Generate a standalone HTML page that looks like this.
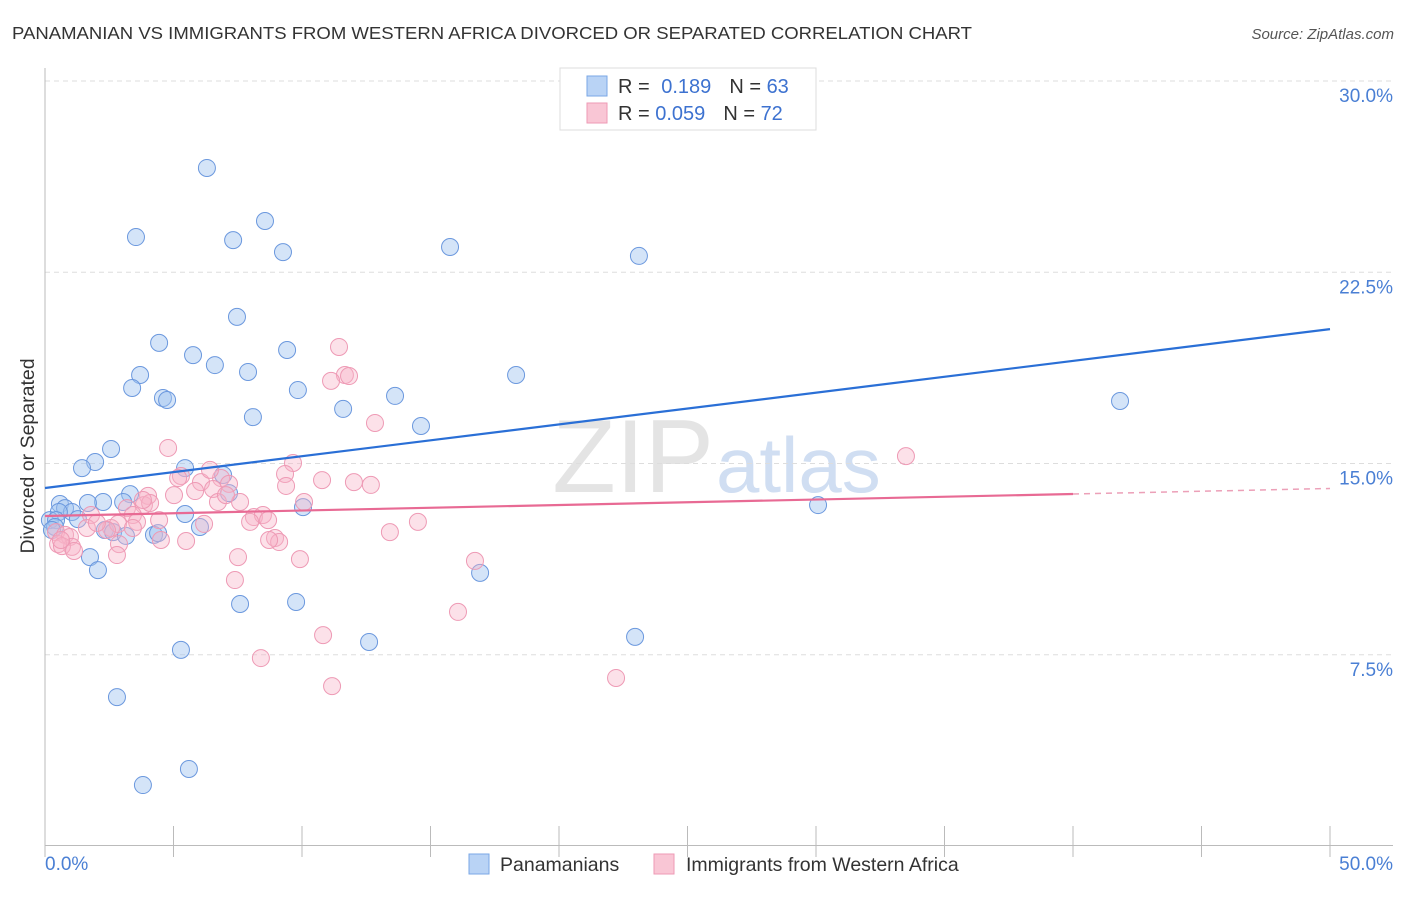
<!DOCTYPE html>
<html><head><meta charset="utf-8"><style>
body{margin:0;background:#fff;font-family:"Liberation Sans",sans-serif;}
svg text{font-family:"Liberation Sans",sans-serif;}
</style></head><body>
<svg width="1406" height="892">
<text x="12" y="39" font-size="17.5" fill="#333" textLength="960" lengthAdjust="spacingAndGlyphs">PANAMANIAN VS IMMIGRANTS FROM WESTERN AFRICA DIVORCED OR SEPARATED CORRELATION CHART</text>
<text x="1394" y="39" font-size="15" fill="#555" font-style="italic" text-anchor="end">Source: ZipAtlas.com</text>
<text x="714" y="492" font-size="104" fill="#e4e4e4" text-anchor="end" font-family="Liberation Serif">ZIP</text>
<text x="716" y="492" font-size="78" fill="#d0def2">atlas</text>
<g id="grid"></g>
<line x1="45" y1="68" x2="45" y2="846" stroke="#bbb"/>
<line x1="45" y1="845.5" x2="1393" y2="845.5" stroke="#bbb"/>
<text transform="translate(34,456) rotate(-90)" font-size="19.5" fill="#333" text-anchor="middle">Divorced or Separated</text>
<text x="45" y="870" font-size="19" fill="#4a7fd4">0.0%</text>
<text x="1393" y="870" font-size="19" fill="#4a7fd4" text-anchor="end">50.0%</text>
<g id="pts"></g>
<g id="lines"></g>
<g>
<rect x="560" y="68" width="256" height="62" fill="#fff" stroke="#ddd"/>
<rect x="587" y="76" width="20" height="20" fill="#b9d3f5" stroke="#7aa7e6"/>
<rect x="587" y="103" width="20" height="20" fill="#f9c6d5" stroke="#ee9ab5"/>
<text x="618" y="93" font-size="20" fill="#333">R = <tspan fill="#3d72d0" dx="6">0.189</tspan><tspan dx="18" fill="#333">N = </tspan><tspan fill="#3d72d0">63</tspan></text>
<text x="618" y="120" font-size="20" fill="#333">R = <tspan fill="#3d72d0">0.059</tspan><tspan dx="18" fill="#333">N = </tspan><tspan fill="#3d72d0">72</tspan></text>
</g>
<g>
<rect x="469" y="854" width="20" height="20" fill="#b9d3f5" stroke="#7aa7e6"/>
<text x="500" y="871" font-size="19.5" fill="#333">Panamanians</text>
<rect x="654" y="854" width="20" height="20" fill="#f9c6d5" stroke="#ee9ab5"/>
<text x="686" y="871" font-size="19.5" fill="#333">Immigrants from Western Africa</text>
</g>
</svg>
<script>
const yTicks=[7.5,15,22.5,30];
const yTickLabels=["7.5%","15.0%","22.5%","30.0%"];
const xTicks=[0,5,10,15,20,25,30,35,40,45,50];
const blueX=[6.30,8.56,3.54,7.32,9.26,15.76,23.11,7.47,4.44,5.76,9.42,6.61,3.70,7.90,18.33,3.39,4.59,4.75,9.84,13.62,11.60,8.09,14.63,41.83,2.57,1.95,1.44,5.45,6.93,7.16,3.31,2.26,0.58,1.67,3.04,0.78,1.05,0.54,10.04,5.45,30.08,1.28,0.19,0.43,0.39,2.33,6.03,2.65,4.24,4.40,3.15,1.75,2.06,16.93,7.59,9.77,12.61,22.96,5.29,2.80,5.60,3.81,0.27];
const blueY=[26.59,24.51,23.88,23.76,23.29,23.49,23.14,20.75,19.73,19.25,19.45,18.86,18.47,18.59,18.47,17.96,17.57,17.49,17.88,17.65,17.14,16.82,16.47,17.45,15.57,15.06,14.82,14.82,14.55,13.84,13.80,13.49,13.41,13.45,13.49,13.25,13.10,13.10,13.29,13.02,13.37,12.82,12.78,12.78,12.51,12.39,12.51,12.31,12.20,12.27,12.16,11.33,10.82,10.71,9.49,9.57,8.00,8.20,7.69,5.84,3.02,2.39,12.39];
const pinkX=[11.44,11.67,11.83,11.13,12.84,4.79,33.50,9.65,5.29,5.18,6.85,10.78,12.02,12.68,9.34,6.07,7.16,9.38,6.54,5.84,4.01,5.02,7.59,10.08,6.73,3.85,3.19,4.09,1.79,3.42,8.13,8.48,4.44,7.98,3.58,14.51,6.19,1.63,2.57,8.68,2.84,13.42,0.43,0.78,0.97,2.41,8.95,9.11,8.72,4.51,5.49,1.05,0.51,2.88,0.66,1.13,2.80,7.51,9.92,16.73,7.39,16.07,10.82,8.40,11.17,22.22,2.02,3.42,3.81,6.42,7.04,0.62];
const pinkY=[19.57,18.47,18.43,18.24,16.59,15.61,15.29,15.02,14.51,14.43,14.43,14.35,14.27,14.16,14.59,14.27,14.20,14.12,14.00,13.92,13.73,13.76,13.49,13.49,13.49,13.37,13.25,13.45,12.98,12.98,12.90,12.98,12.78,12.71,12.71,12.71,12.63,12.47,12.47,12.78,12.63,12.31,12.31,12.20,12.12,12.39,12.08,11.92,12.00,12.00,11.96,11.73,11.84,11.84,11.76,11.57,11.41,11.33,11.25,11.18,10.43,9.18,8.27,7.37,6.27,6.59,12.67,12.47,13.57,14.75,13.76,12.00];
const blueTrend=[14.04,20.27];
const pinkTrend=[12.94,14.02];
const NS="http://www.w3.org/2000/svg";
const X=v=>45+v/50*1285;
const Y=v=>846-v*25.5;
function mk(tag,attrs,parent){const e=document.createElementNS(NS,tag);for(const k in attrs)e.setAttribute(k,attrs[k]);parent.appendChild(e);return e;}
const grid=document.getElementById('grid');
yTicks.forEach((t,i)=>{
 const l=mk('line',{x1:45,x2:1393,y1:Y(t),y2:Y(t),stroke:'#ddd','stroke-dasharray':'5,4'},grid);
 
 
 const tx=mk('text',{x:1393,y:Y(t)+21,'font-size':19,fill:'#4a7fd4','text-anchor':'end'},grid);
 tx.textContent=yTickLabels[i];
 
 
});
xTicks.forEach(t=>{
 const l=mk('line',{x1:X(t),x2:X(t),y1:826,y2:857,stroke:'#bbb'},grid);
 
 
});
const pts=document.getElementById('pts');
blueX.forEach((x,i)=>{
 const c=mk('circle',{cx:X(x),cy:Y(blueY[i]),r:8.5,fill:'rgba(160,196,240,0.45)',stroke:'#6b98de','stroke-width':1},pts);
 
 
});
pinkX.forEach((x,i)=>{
 const c=mk('circle',{cx:X(x),cy:Y(pinkY[i]),r:8.5,fill:'rgba(248,180,200,0.4)',stroke:'#ee9ab5','stroke-width':1},pts);
 
 
});
const lines=document.getElementById('lines');
const bl=mk('line',{x1:X(0),y1:Y(blueTrend[0]),x2:X(50),y2:Y(blueTrend[1]),stroke:'#2a6fd6','stroke-width':2.2},lines);


const pAt=v=>pinkTrend[0]+(pinkTrend[1]-pinkTrend[0])*v/50;
const pl=mk('line',{x1:X(0),y1:Y(pAt(0)),x2:X(40),y2:Y(pAt(40)),stroke:'#e86a94','stroke-width':2.2},lines);


const pd=mk('line',{x1:X(40),y1:Y(pAt(40)),x2:X(50),y2:Y(pAt(50)),stroke:'#eca0b8','stroke-width':1.5,'stroke-dasharray':'6,5'},lines);


</script>
</body></html>
